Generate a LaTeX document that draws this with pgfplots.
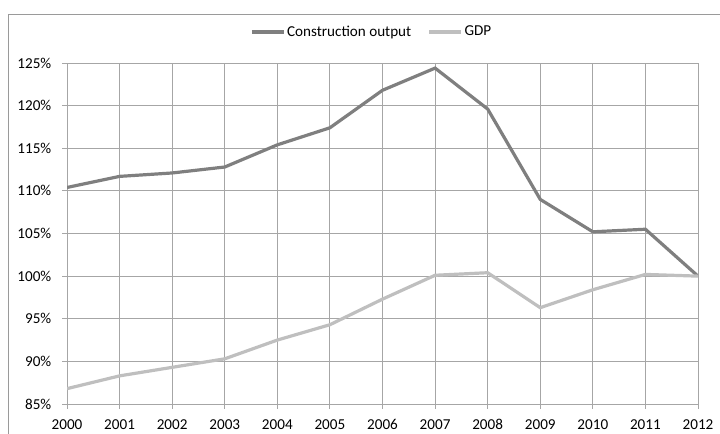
\documentclass[border=0pt]{standalone}
\usepackage{pgfplots}
\pgfplotsset{compat=1.18}
\usepackage{fontspec}
\setmainfont{Carlito}
\definecolor{constr}{HTML}{7F7F7F}
\definecolor{gdp}{HTML}{BFBFBF}
\definecolor{gridc}{HTML}{A6A6A6}
\definecolor{framec}{HTML}{9A9A9A}
\begin{document}
\fontsize{15.2}{18}\selectfont
\begin{tikzpicture}
\useasboundingbox (0bp,0bp) rectangle (720bp,434bp);
\draw[framec, line width=1.1bp] (8.7bp,-10bp) -- (8.7bp,419.5bp) -- (740bp,419.5bp);
\begin{axis}[
  at={(67bp,30bp)}, anchor=south west,
  scale only axis, width=631bp, height=341bp,
  xmin=2000, xmax=2012, ymin=85, ymax=125,
  xtick={2000,2001,...,2012}, ytick={85,90,...,125},
  /pgf/number format/assume math mode=true,
  /pgf/number format/1000 sep={},
  yticklabel={\pgfmathprintnumber{\tick}\%},
  xticklabel style={font=\fontsize{15.2}{18}\selectfont, yshift=-5bp},
  yticklabel style={font=\fontsize{15.2}{18}\selectfont, xshift=-5.5bp},
  tick align=outside, tick pos=left, major tick length=5bp,
  tick style={gridc, line width=1bp},
  grid=major, grid style={gridc, line width=1bp},
  axis lines*=left,
  axis line style={gridc, line width=1bp},
  legend columns=2,
  legend style={at={(0.4826,1.091)}, anchor=center, draw=none, fill=none,
    font=\fontsize{15.2}{18}\selectfont,
    /tikz/every even column/.append style={column sep=15bp},
    nodes={inner sep=1.5bp, anchor=west}},
  legend image code/.code={\draw[#1] (0bp,0bp) -- (32bp,0bp);},
]
\addplot[constr, line width=3.2bp] coordinates {
(2000,110.4) (2001,111.7) (2002,112.1) (2003,112.8) (2004,115.4) (2005,117.4)
(2006,121.8) (2007,124.4) (2008,119.6) (2009,109.0) (2010,105.2) (2011,105.5) (2012,100.0)};
\addlegendentry{Construction output}
\addplot[gdp, line width=3.2bp] coordinates {
(2000,86.8) (2001,88.3) (2002,89.3) (2003,90.3) (2004,92.5) (2005,94.3)
(2006,97.3) (2007,100.1) (2008,100.4) (2009,96.3) (2010,98.4) (2011,100.2) (2012,100.0)};
\addlegendentry{GDP}
\end{axis}
\end{tikzpicture}
\end{document}
